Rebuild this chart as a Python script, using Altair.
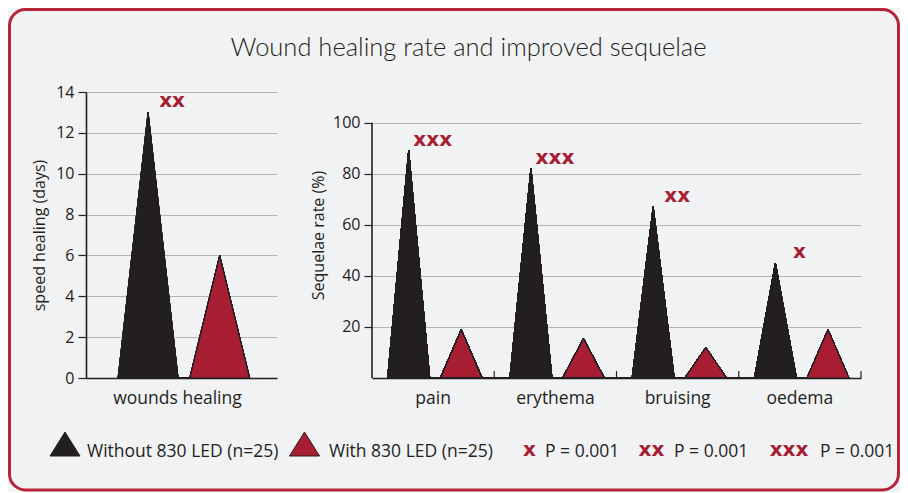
import altair as alt
import pandas as pd

# ---------------- data ----------------
wound_categories = ["wounds healing"]
wound_without_led = [13]
wound_with_led = [6]
wound_significance = ["xx"]

sequelae_categories = ["pain", "erythema", "bruising", "oedema"]
sequelae_without_led = [89, 82, 67, 45]
sequelae_with_led = [19, 15.5, 12, 19]
sequelae_significance = ["xxx", "xxx", "xx", "x"]

series_names = ["Without 830 LED (n=25)", "With 830 LED (n=25)"]
significance_keys = ["x", "xx", "xxx"]
significance_labels = ["P = 0.001", "P = 0.001", "P = 0.001"]

wound_ticks = [0, 2, 4, 6, 8, 10, 12, 14]
sequelae_ticks = [20, 40, 60, 80, 100]

title_text = "Wound healing rate and improved sequelae"
wound_axis_title = "speed healing (days)"
sequelae_axis_title = "Sequelae rate (%)"

# ---------------- style ----------------
DARK = "#231f20"
RED = "#a71d31"
BORDER = "#b52438"
BG = "#f1f2f4"
GRID = "#b4b4b4"
FONT = "Open Sans"
TITLE_FONT = "Lato"
SIG_FONT = "DejaVu Sans"

H = 286
W1 = 191
W2 = 489
GAP = 95
TRI_PATH = "M-1,0.8L0,-0.8L1,0.8Z"

color_scale = alt.Scale(domain=series_names, range=[DARK, RED])


def triangle_table(cats, without, with_, centres, half):
    rows = []
    for i, c in enumerate(cats):
        for s, vals, cen in zip(series_names, (without, with_), centres):
            mid = i + cen
            key = f"{c}|{s}"
            pts = ((mid - half, 0), (mid, vals[i]), (mid + half, 0))
            for k, (px, pv) in enumerate(pts):
                rows.append({"key": key, "series": s, "x": px, "v": pv, "ord": k})
    return pd.DataFrame(rows)


def panel(cats, without, with_, sig, width, ymax, yvals, ytitle, centres, half,
          y_domain_line, title_pad, boundary_ticks, label_dx):
    n = len(cats)
    xscale = alt.Scale(domain=[0, n], nice=False, zero=False)
    yscale = alt.Scale(domain=[0, ymax], nice=False)
    xaxis = alt.Axis(title=None, labels=False, ticks=False, grid=False,
                     domainColor=DARK, domainWidth=1.6)
    yaxis = alt.Axis(values=yvals, title=ytitle, grid=True, gridColor=GRID,
                     gridWidth=1.2, domain=y_domain_line, domainColor=DARK,
                     domainWidth=1.6, tickColor=DARK, tickSize=8, tickWidth=1.2,
                     labelFont=FONT, labelFontSize=16, labelColor=DARK,
                     labelPadding=4, titleFont=FONT, titleFontSize=16,
                     titleFontWeight="normal", titleColor=DARK,
                     titlePadding=title_pad)

    tri = triangle_table(cats, without, with_, centres, half)
    areas = alt.Chart(tri).mark_area(
        interpolate="linear", stroke=DARK, strokeWidth=1, strokeJoin="miter"
    ).encode(
        x=alt.X("x:Q", scale=xscale, axis=xaxis),
        y=alt.Y("v:Q", scale=yscale, axis=yaxis),
        color=alt.Color("series:N", scale=color_scale, legend=None),
        detail="key:N",
        order="ord:Q",
    )

    sig_df = pd.DataFrame({"x": [i + centres[0] for i in range(n)],
                           "v": without, "sig": sig})
    sig_layer = alt.Chart(sig_df).mark_text(
        font=SIG_FONT, fontSize=20, fontWeight="bold", color=RED,
        dx=24, dy=-11, baseline="middle", align="center"
    ).encode(x=alt.X("x:Q", scale=xscale), y=alt.Y("v:Q", scale=yscale), text="sig:N")

    cat_df = pd.DataFrame({"x": [i + 0.5 for i in range(n)], "cat": cats})
    cat_layer = alt.Chart(cat_df).mark_text(
        font=FONT, fontSize=17.5, color=DARK, baseline="middle", align="center",
        dx=label_dx
    ).encode(x=alt.X("x:Q", scale=xscale), y=alt.value(H + 21), text="cat:N")

    layers = [areas, sig_layer, cat_layer]

    if boundary_ticks:
        tick_df = pd.DataFrame({"x": list(range(1, n + 1))})
        layers.append(alt.Chart(tick_df).mark_rule(color=DARK, strokeWidth=1.2).encode(
            x=alt.X("x:Q", scale=xscale), y=alt.value(H - 7), y2=alt.value(H)))

    if not y_domain_line:
        axis_df = pd.DataFrame({"lo": [0], "hi": [yvals[-1]]})
        layers.append(alt.Chart(axis_df).mark_rule(color=DARK, strokeWidth=1.6).encode(
            x=alt.value(0), y=alt.Y("lo:Q", scale=yscale), y2="hi:Q"))

    return layers


left_layers = panel(wound_categories, wound_without_led, wound_with_led,
                    wound_significance, W1, 14, wound_ticks, wound_axis_title,
                    (0.325, 0.70), 0.157, True, 8, False, -4)
right_layers = panel(sequelae_categories, sequelae_without_led, sequelae_with_led,
                     sequelae_significance, W2, 112, sequelae_ticks, sequelae_axis_title,
                     (0.30, 0.73), 0.172, False, 6, True, 0)

# ---- frame, title and legend (drawn in the left panel's coordinates) ----
one = pd.DataFrame({"t": [title_text]})
frame = alt.Chart(one).mark_rect(
    fillOpacity=0, stroke=BORDER, strokeWidth=3, cornerRadius=16
).encode(x=alt.value(-76.5), x2=alt.value(812.5), y=alt.value(-82.5), y2=alt.value(398))

title = alt.Chart(one).mark_text(
    font=TITLE_FONT, fontSize=25.5, fontWeight=300, color=DARK, align="center",
    baseline="alphabetic"
).encode(x=alt.value(382.5), y=alt.value(-36), text="t:N")

legend_layers = []
tri_x = [-21, 218.5]
txt_x = [1, 243]
for name, tx, lx in zip(series_names, tri_x, txt_x):
    d = pd.DataFrame({"series": [name]})
    legend_layers.append(alt.Chart(d).mark_point(
        shape=TRI_PATH, size=900, filled=True, opacity=1, stroke=DARK, strokeWidth=1
    ).encode(x=alt.value(tx), y=alt.value(352),
             color=alt.Color("series:N", scale=color_scale, legend=None)))
    legend_layers.append(alt.Chart(d).mark_text(
        font=FONT, fontSize=17.5, color=DARK, align="left", baseline="alphabetic"
    ).encode(x=alt.value(lx), y=alt.value(365), text="series:N"))

sym_x = [443.5, 565.5, 703]
p_x = [459, 588, 734]
for sym, lab, sx, px in zip(significance_keys, significance_labels, sym_x, p_x):
    d = pd.DataFrame({"sym": [sym], "lab": [lab]})
    legend_layers.append(alt.Chart(d).mark_text(
        font=SIG_FONT, fontSize=20, fontWeight="bold", color=RED, align="center",
        baseline="alphabetic"
    ).encode(x=alt.value(sx), y=alt.value(364), text="sym:N"))
    legend_layers.append(alt.Chart(d).mark_text(
        font=FONT, fontSize=17.5, color=DARK, align="left", baseline="alphabetic"
    ).encode(x=alt.value(px), y=alt.value(365), text="lab:N"))

left = alt.layer(frame, *left_layers, title, *legend_layers).properties(width=W1, height=H)
right = alt.layer(*right_layers).properties(width=W2, height=H)

chart = alt.hconcat(left, right, spacing=GAP, bounds="flush").properties(
    padding=0, background=BG
).configure_view(stroke=None)

chart.save("out.html", embed_options={"renderer": "svg", "actions": False})
